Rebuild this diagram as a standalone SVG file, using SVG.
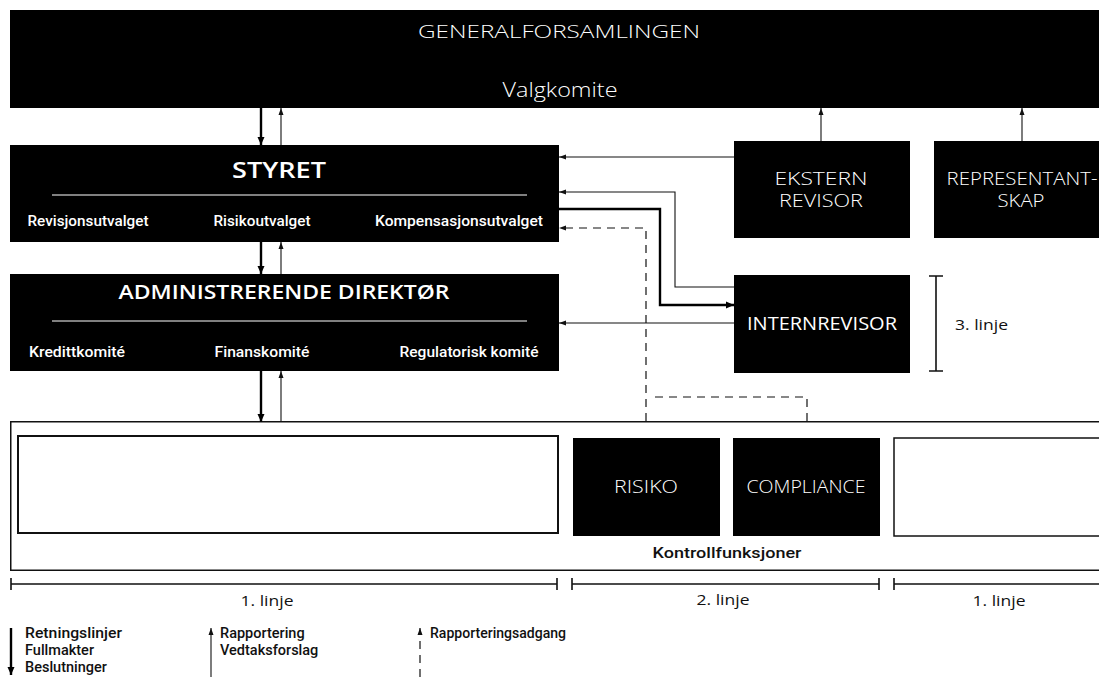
<svg xmlns="http://www.w3.org/2000/svg" width="1099" height="677" viewBox="0 0 1099 677">
<style>
text{font-family:Roboto,"Noto Sans","Liberation Sans",sans-serif}
.os{font-family:"Open Sans","Noto Sans","Liberation Sans",sans-serif}
.box{fill:#000}
.wbox{fill:#fff;stroke:#111}
.tw{fill:#fff}
.tl{font-weight:300}
.tm{font-weight:500}
.ts{font-weight:600}
.c{text-anchor:middle}
.thin{fill:none;stroke:#111;stroke-width:1.1}
.thick{fill:none;stroke:#000;stroke-width:2.4}
.dash{fill:none;stroke:#111;stroke-width:1.2;stroke-dasharray:8 6}
.brk{fill:none;stroke:#111;stroke-width:1.6}
.tb{fill:#111}
</style>
<defs>
<marker id="as" markerUnits="userSpaceOnUse" markerWidth="7" markerHeight="6" refX="7" refY="3" orient="auto"><path d="M0,0.5 L7,3 L0,5.5 z" fill="#111"/></marker>
<marker id="al" markerUnits="userSpaceOnUse" markerWidth="8" markerHeight="8" refX="8" refY="4" orient="auto"><path d="M0,0.5 L8,4 L0,7.5 z" fill="#000"/></marker>
</defs>

<g id="generalforsamlingen">
<rect class="box" x="10" y="10" width="1100" height="98"/>
<text class="tw tl c os" x="559" y="38" font-size="18" textLength="282" lengthAdjust="spacingAndGlyphs">GENERALFORSAMLINGEN</text>
<text class="tw tl c os" x="560" y="97" font-size="20" textLength="115" lengthAdjust="spacingAndGlyphs">Valgkomite</text>
</g>

<g id="styret">
<rect class="box" x="10" y="145" width="549" height="97"/>
<text class="tw ts c os" x="279" y="178" font-size="21" textLength="94" lengthAdjust="spacingAndGlyphs">STYRET</text>
<line x1="52" y1="195" x2="527" y2="195" stroke="#fff" stroke-width="1"/>
<text class="tw tm c" x="88" y="226" font-size="14" textLength="121" lengthAdjust="spacingAndGlyphs">Revisjonsutvalget</text>
<text class="tw tm c" x="262" y="226" font-size="14" textLength="97" lengthAdjust="spacingAndGlyphs">Risikoutvalget</text>
<text class="tw tm c" x="459" y="226" font-size="14" textLength="168" lengthAdjust="spacingAndGlyphs">Kompensasjonsutvalget</text>
</g>

<g id="administrerende-direktor">
<rect class="box" x="10" y="274" width="549" height="97"/>
<text class="tw ts c os" x="284" y="299" font-size="20" textLength="331" lengthAdjust="spacingAndGlyphs">ADMINISTRERENDE DIREKTØR</text>
<line x1="52" y1="321" x2="527" y2="321" stroke="#fff" stroke-width="1"/>
<text class="tw tm c" x="77" y="357" font-size="14" textLength="96" lengthAdjust="spacingAndGlyphs">Kredittkomité</text>
<text class="tw tm c" x="262" y="357" font-size="14" textLength="95" lengthAdjust="spacingAndGlyphs">Finanskomité</text>
<text class="tw tm c" x="469" y="357" font-size="14" textLength="139" lengthAdjust="spacingAndGlyphs">Regulatorisk komité</text>
</g>

<g id="ekstern-revisor">
<rect class="box" x="734" y="141" width="176" height="97"/>
<text class="tw tl c os" x="821" y="185" font-size="18" textLength="93" lengthAdjust="spacingAndGlyphs">EKSTERN</text>
<text class="tw tl c os" x="821" y="207" font-size="18" textLength="84" lengthAdjust="spacingAndGlyphs">REVISOR</text>
</g>

<g id="representantskap">
<rect class="box" x="934" y="141" width="200" height="97"/>
<text class="tw tl c os" x="1022" y="185" font-size="18" textLength="151" lengthAdjust="spacingAndGlyphs">REPRESENTANT-</text>
<text class="tw tl c os" x="1021" y="207" font-size="18" textLength="47" lengthAdjust="spacingAndGlyphs">SKAP</text>
</g>

<g id="internrevisor">
<rect class="box" x="734" y="275" width="176" height="98"/>
<text class="tw c os" x="822" y="330" font-size="18" textLength="150" lengthAdjust="spacingAndGlyphs">INTERNREVISOR</text>
</g>

<g id="tredje-linje">
<path class="brk" d="M936,276 V371 M929,276 H943 M929,371 H943"/>
<text class="tb os" x="955" y="330" font-size="15" textLength="53" lengthAdjust="spacingAndGlyphs">3. linje</text>
</g>

<g id="virksomhet">
<rect x="10.75" y="421.75" width="1100" height="148.5" fill="#fff" stroke="#111" stroke-width="1.5"/>
<rect class="wbox" x="18" y="436" width="540" height="97" stroke-width="2"/>
<rect class="wbox" x="894" y="438" width="220" height="98" stroke-width="1.5"/>
<text class="tb tm c" x="727" y="558" font-size="15" textLength="149" lengthAdjust="spacingAndGlyphs">Kontrollfunksjoner</text>
</g>

<g id="risiko">
<rect class="box" x="573" y="438" width="147" height="98"/>
<text class="tw tl c os" x="646" y="493" font-size="18" textLength="64" lengthAdjust="spacingAndGlyphs">RISIKO</text>
</g>

<g id="compliance">
<rect class="box" x="733" y="438" width="147" height="98"/>
<text class="tw tl c os" x="806" y="493" font-size="18" textLength="119" lengthAdjust="spacingAndGlyphs">COMPLIANCE</text>
</g>

<g id="linjer">
<path class="brk" d="M11,584 H557 M11,578 V590 M557,578 V590"/>
<path class="brk" d="M572,584 H879 M572,578 V590 M879,578 V590"/>
<path class="brk" d="M894,584 H1110 M894,578 V590"/>
<text class="tb c os" x="267" y="606" font-size="15" textLength="53" lengthAdjust="spacingAndGlyphs">1. linje</text>
<text class="tb c os" x="723" y="605" font-size="15" textLength="53" lengthAdjust="spacingAndGlyphs">2. linje</text>
<text class="tb c os" x="999" y="606" font-size="15" textLength="53" lengthAdjust="spacingAndGlyphs">1. linje</text>
</g>

<g id="connectors">
<path class="thick" d="M261,108 V145" marker-end="url(#al)"/>
<path class="thin" d="M281,145 V108" marker-end="url(#as)"/>
<path class="thick" d="M261,242 V274" marker-end="url(#al)"/>
<path class="thin" d="M281,274 V242" marker-end="url(#as)"/>
<path class="thick" d="M261,371 V422" marker-end="url(#al)"/>
<path class="thin" d="M281,421 V371" marker-end="url(#as)"/>
<path class="thin" d="M821,141 V108" marker-end="url(#as)"/>
<path class="thin" d="M1022,141 V108" marker-end="url(#as)"/>
<path class="thin" d="M734,157 H559" marker-end="url(#as)"/>
<path class="thin" d="M734,287 H675 V192 H559" marker-end="url(#as)"/>
<path class="thick" d="M559,209 H660 V305 H734" marker-end="url(#al)"/>
<path class="thin" d="M734,323 H559" marker-end="url(#as)"/>
<path class="dash" d="M646,421 V228 H559" marker-end="url(#as)"/>
<path class="dash" d="M807,421 V397 H652"/>
</g>

<g id="legend">
<path class="thick" d="M11,628 V675" marker-end="url(#al)"/>
<text class="tb tm" x="25" y="638" font-size="14.5" textLength="97" lengthAdjust="spacingAndGlyphs">Retningslinjer</text>
<text class="tb tm" x="25" y="655" font-size="14.5">Fullmakter</text>
<text class="tb tm" x="25" y="672" font-size="14.5">Beslutninger</text>
<path class="thin" d="M211,677 V628" marker-end="url(#as)"/>
<text class="tb tm" x="220" y="638" font-size="14.5">Rapportering</text>
<text class="tb tm" x="220" y="655" font-size="14.5">Vedtaksforslag</text>
<path class="dash" d="M420,677 V628" marker-end="url(#as)"/>
<text class="tb tm" x="430" y="638" font-size="14.5" textLength="136" lengthAdjust="spacingAndGlyphs">Rapporteringsadgang</text>
</g>
</svg>
